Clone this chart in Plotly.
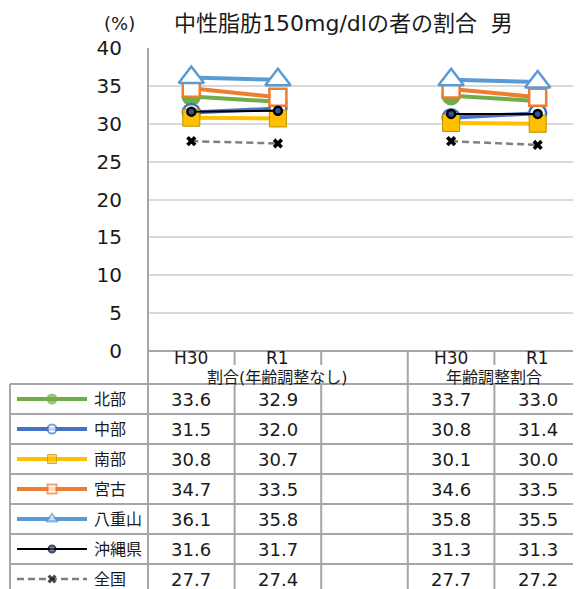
import plotly.graph_objects as go

W, H = 581, 589
OFF = 8  # page body margin shifts the figure; positions below are page pixels

# categories: two groups, with an empty slot between them
categories = ["H30", "R1", "", "H30", "R1"]
groups = ["割合(年齢調整なし)", "年齢調整割合"]

names = ["北部", "中部", "南部", "宮古", "八重山", "沖縄県", "全国"]
hokubu = [33.6, 32.9, None, 33.7, 33.0]
chubu = [31.5, 32.0, None, 30.8, 31.4]
nanbu = [30.8, 30.7, None, 30.1, 30.0]
miyako = [34.7, 33.5, None, 34.6, 33.5]
yaeyama = [36.1, 35.8, None, 35.8, 35.5]
okinawa = [31.6, 31.7, None, 31.3, 31.3]
zenkoku = [27.7, 27.4, None, 27.7, 27.2]
series = [hokubu, chubu, nanbu, miyako, yaeyama, okinawa, zenkoku]

FONT = "DejaVu Sans, Noto Sans CJK JP"
TXT = "#1a1a1a"

# style per series: line color, width, dash, symbol, marker fill, marker line, chart size, legend size
styles = [
    dict(c="#70AD47", w=4, dash="solid", sym="circle", fill="#70AD47", mline="#70AD47", s=17, ls=9),
    dict(c="#4472C4", w=4, dash="solid", sym="circle", fill="white", mline="#4472C4", s=17, ls=9),
    dict(c="#FFC000", w=4, dash="solid", sym="square", fill="#FFC000", mline="#BF9000", s=17, ls=9),
    dict(c="#ED7D31", w=4, dash="solid", sym="square", fill="white", mline="#ED7D31", s=17, ls=9),
    dict(c="#5B9BD5", w=4, dash="solid", sym="triangle-up", fill="white", mline="#5B9BD5", s=22, ls=10),
    dict(c="#000000", w=2, dash="solid", sym="circle", fill="#2F5597", mline="#000000", s=8, ls=7),
    dict(c="#808080", w=2.5, dash="7px,4px", sym="x", fill="#000000", mline="#000000", s=9, ls=8),
]


def py(p):
    return 1 - (p - OFF) / H


def px(p):
    return (p - OFF) / W


def mline_width(st, base):
    if st["sym"] == "x":
        return 0
    if st["sym"] == "square" and st["fill"] != "white":
        return 1
    return base


fig = go.Figure()
xs = list(range(len(categories)))
for name, vals, st in zip(names, series, styles):
    fig.add_trace(go.Scatter(
        x=xs, y=vals, name=name, mode="lines+markers",
        line=dict(color=st["c"], width=st["w"], dash=st["dash"]),
        marker=dict(symbol=st["sym"], size=st["s"], color=st["fill"],
                    line=dict(color=st["mline"], width=mline_width(st, 2.5))),
        xaxis="x", yaxis="y", showlegend=False,
    ))

# legend samples inside the table (pixel-coordinate helper axes)
row_top = 384
row_h = 30
for i, st in enumerate(styles):
    yc = row_top + row_h * (i + 0.5)
    fig.add_trace(go.Scatter(
        x=[17, 52, 87], y=[yc, yc, yc], mode="lines+markers",
        line=dict(color=st["c"], width=st["w"], dash=st["dash"]),
        marker=dict(symbol=st["sym"], size=[0, st["ls"], 0], color=st["fill"],
                    line=dict(color=st["mline"], width=mline_width(st, 2))),
        xaxis="x2", yaxis="y2", showlegend=False, hoverinfo="skip",
    ))

grid = "#A6A6A6"
shapes = []
# y axis line continuing down through table
shapes.append(dict(type="line", xref="paper", yref="paper", x0=px(148), x1=px(148), y0=py(48), y1=0,
                   line=dict(color=grid, width=2)))
# x axis line
shapes.append(dict(type="line", xref="paper", yref="paper", x0=px(148), x1=1, y0=py(351), y1=py(351),
                   line=dict(color=grid, width=2)))
# table horizontal lines
for k in range(len(names)):
    yl = row_top + row_h * k
    shapes.append(dict(type="line", xref="paper", yref="paper", x0=px(10), x1=1, y0=py(yl), y1=py(yl),
                       line=dict(color=grid, width=2)))
# table left border
shapes.append(dict(type="line", xref="paper", yref="paper", x0=px(10), x1=px(10), y0=py(row_top), y1=0,
                   line=dict(color=grid, width=2)))
# column separators
for b in [0.5, 1.5, 2.5, 3.5]:
    full = b == 2.5
    shapes.append(dict(type="line", xref="x", yref="paper", x0=b, x1=b, y0=py(351),
                       y1=0 if full else py(365), line=dict(color=grid, width=2)))
    if not full:
        shapes.append(dict(type="line", xref="x", yref="paper", x0=b, x1=b, y0=py(row_top), y1=0,
                           line=dict(color=grid, width=2)))


def text(t, x, y, size, xref="paper", xanchor="center"):
    return dict(text=t, x=x, y=y, xref=xref, yref="paper", xanchor=xanchor, yanchor="middle",
                showarrow=False, font=dict(size=size, color=TXT, family=FONT))


ann = [
    text("中性脂肪150mg/dlの者の割合  男", px(343), py(23), 22),
    text("(%)", px(119), py(23), 18),
]
for i, c in enumerate(categories):
    if c:
        ann.append(text(c, i, py(358), 17, xref="x"))
ann.append(text(groups[0], 1, py(377), 16, xref="x"))
ann.append(text(groups[1], 3.5, py(377), 16, xref="x"))
for r, (name, vals) in enumerate(zip(names, series)):
    yc = row_top + row_h * (r + 0.5)
    ann.append(text(name, px(92), py(yc), 16, xanchor="left"))
    for i, v in enumerate(vals):
        if v is not None:
            ann.append(text(f"{v:.1f}", i, py(yc), 18, xref="x"))

fig.update_layout(
    width=W, height=H, margin=dict(l=0, r=0, t=0, b=0, autoexpand=False),
    paper_bgcolor="white", plot_bgcolor="rgba(0,0,0,0)",
    font=dict(family=FONT),
    xaxis=dict(domain=[px(148), 1], range=[-0.5, 4.5 + 1.0 * OFF / 86.6], showticklabels=False,
               showgrid=False, zeroline=False, anchor="y", fixedrange=True),
    yaxis=dict(domain=[py(351), py(48)], range=[0, 40], dtick=5, showgrid=True, gridcolor="#D9D9D9",
               gridwidth=1.5, zeroline=False, anchor="x", ticklabelstandoff=25,
               tickfont=dict(size=20, color=TXT, family=FONT)),
    xaxis2=dict(domain=[0, 1], range=[OFF, W + OFF], visible=False, anchor="y2"),
    yaxis2=dict(domain=[0, 1], range=[H + OFF, OFF], visible=False, anchor="x2"),
    shapes=shapes, annotations=ann,
)

fig.write_html("out.html")
